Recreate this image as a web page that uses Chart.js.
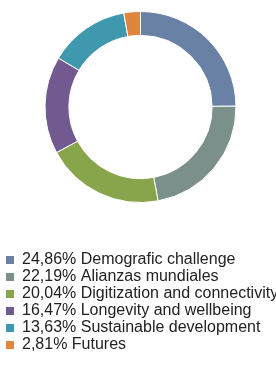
<!DOCTYPE html>
<html>
<head>
<meta charset="utf-8">
<script src="https://cdn.jsdelivr.net/npm/chart.js@4"></script>
<style>
  html, body { margin: 0; padding: 0; background: #fff; }
  #wrap { width: 276px; height: 370px; }
</style>
</head>
<body>
<div id="wrap"><canvas id="donutChart" width="276" height="370"></canvas></div>
<script>
// Share by research area (%)
const areaLabels = ["Demografic challenge", "Alianzas mundiales", "Digitization and connectivity", "Longevity and wellbeing", "Sustainable development", "Futures"];
const areaValues = [24.86, 22.19, 20.04, 16.47, 13.63, 2.81];
const areaColors = ["#6881A4", "#7B908B", "#88A54B", "#725A90", "#4098AF", "#DF853D"];

function pct(v) {
    return v.toFixed(2).replace(".", ",") + "%";
}

let ctx = document.getElementById("donutChart").getContext("2d");
new Chart(ctx, {
    type: "doughnut",
    data: {
        labels: areaLabels,
        datasets: [{
            data: areaValues,
            backgroundColor: areaColors,
            borderColor: "#ffffff",
            borderWidth: 1
        }]
    },
    options: {
        responsive: false,
        animation: false,
        cutout: "75%",
        layout: {
            padding: { top: 11, bottom: 7, left: 5, right: 0 }
        },
        plugins: {
            tooltip: { enabled: false },
            legend: {
                position: "bottom",
                align: "start",
                // empty title only used as a gap between ring and legend
                title: {
                    display: true,
                    text: "",
                    font: { size: 10, lineHeight: 1 },
                    padding: { top: 38, bottom: 0 }
                },
                labels: {
                    boxWidth: 8,
                    boxHeight: 8,
                    padding: 1,
                    color: "#222",
                    font: { family: "Arial, 'Liberation Sans', sans-serif", size: 16 },
                    generateLabels: chart => areaLabels.map((name, i) => ({
                        text: pct(areaValues[i]) + " " + name,
                        fillStyle: areaColors[i],
                        strokeStyle: areaColors[i],
                        fontColor: "#222",
                        lineWidth: 0,
                        hidden: false,
                        index: i
                    }))
                }
            }
        }
    }
});
</script>
</body>
</html>
